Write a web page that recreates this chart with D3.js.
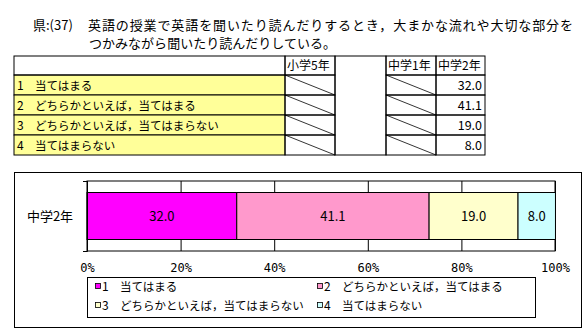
<!DOCTYPE html>
<html>
<head>
<meta charset="utf-8">
<script src="https://cdn.jsdelivr.net/npm/d3@7"></script>
<style>
  body { margin: 0; background: #fff; }
  text { font-family: "Noto Sans CJK JP", "Noto Sans", sans-serif; fill: #000; }
</style>
</head>
<body>
<div id="chart"></div>
<script>
// Data
var titleHead = "県:(37)";
var titleLines = ["英語の授業で英語を聞いたり読んだりするとき，大まかな流れや大切な部分を",
                  "つかみながら聞いたり読んだりしている。"];
var answerNums = ["1", "2", "3", "4"];
var answers = ["当てはまる", "どちらかといえば，当てはまる", "どちらかといえば，当てはまらない", "当てはまらない"];
var grades = ["小学5年", "", "中学1年", "中学2年"];
var gradeValues = [null, null, null, [32.0, 41.1, 19.0, 8.0]]; // null = no data (slashed cell)
var categories = ["中学2年"];
var seriesValues = [32.0, 41.1, 19.0, 8.0];
var seriesColors = ["#ff00ff", "#ff99cc", "#ffffcc", "#ccffff"];
var xTicks = [0, 20, 40, 60, 80, 100];

var W = 587, H = 333;
var svg = d3.select("#chart").append("svg")
    .attr("width", W).attr("height", H);

// Title
svg.append("text").attr("x", 33).attr("y", 30).style("font-size", "13px").text(titleHead);
svg.append("text").attr("x", 88).attr("y", 30).style("font-size", "13px")
    .attr("textLength", 485).attr("lengthAdjust", "spacing").text(titleLines[0]);
svg.append("text").attr("x", 89).attr("y", 48).style("font-size", "13px")
    .attr("textLength", 247).attr("lengthAdjust", "spacing").text(titleLines[1]);

// Table
var tTop = 56, headH = 19, rowH = 20;
var colX = [14, 285, 335, 386, 436, 485];   // left column + 4 grade columns
var tBottom = tTop + headH + rowH * answers.length;
var table = svg.append("g").attr("class", "table");

// yellow answer cells
answers.forEach(function(a, i) {
    var y0 = tTop + headH + i * rowH;
    table.append("rect")
        .attr("x", colX[0]).attr("y", y0)
        .attr("width", colX[1] - colX[0]).attr("height", rowH)
        .attr("fill", "#ffff99").attr("stroke", "#000").attr("stroke-width", 1);
    table.append("text").attr("x", colX[0] + 3).attr("y", y0 + 15)
        .style("font-size", "12px").text(answerNums[i]);
    table.append("text").attr("x", colX[0] + 21).attr("y", y0 + 15)
        .style("font-size", "11.5px").text(a);
});
// header left cell
table.append("rect").attr("x", colX[0]).attr("y", tTop)
    .attr("width", colX[1] - colX[0]).attr("height", headH)
    .attr("fill", "none").attr("stroke", "#000");

grades.forEach(function(g, j) {
    var x0 = colX[j + 1], x1 = colX[j + 2];
    if (g === "") {
        // blank gap column: outer border only
        table.append("rect").attr("x", x0).attr("y", tTop)
            .attr("width", x1 - x0).attr("height", tBottom - tTop)
            .attr("fill", "none").attr("stroke", "#000");
        return;
    }
    table.append("rect").attr("x", x0).attr("y", tTop)
        .attr("width", x1 - x0).attr("height", headH)
        .attr("fill", "none").attr("stroke", "#000");
    table.append("text").attr("x", x0 + 2).attr("y", tTop + 14)
        .style("font-size", "12px").text(g);
    answers.forEach(function(a, i) {
        var y0 = tTop + headH + i * rowH;
        table.append("rect").attr("x", x0).attr("y", y0)
            .attr("width", x1 - x0).attr("height", rowH)
            .attr("fill", "none").attr("stroke", "#000");
        if (gradeValues[j] === null) {
            table.append("line")
                .attr("x1", x0).attr("y1", y0).attr("x2", x1).attr("y2", y0 + rowH)
                .attr("stroke", "#000").attr("stroke-width", 0.8);
        } else {
            table.append("text").attr("x", x1 - 3).attr("y", y0 + 15)
                .attr("text-anchor", "end").style("font-size", "12.5px")
                .text(gradeValues[j][i].toFixed(1));
        }
    });
});

// Chart box
svg.append("rect").attr("x", 14.5).attr("y", 172.5).attr("width", 567).attr("height", 155)
    .attr("fill", "#fff").attr("stroke", "#000");

var plot = {left: 87, right: 555, top: 181, bottom: 251};
var x = d3.scaleLinear().domain([0, 100]).range([plot.left, plot.right]);
var y = d3.scaleBand().domain(categories).range([plot.top, plot.bottom]).padding(0.1966);

// gridlines + tick labels
var xAxis = svg.append("g")
    .attr("transform", "translate(0," + plot.bottom + ")")
    .call(d3.axisBottom(x).tickValues(xTicks).tickSize(-(plot.bottom - plot.top))
        .tickFormat(function(d) { return d + "%"; }));
xAxis.select(".domain").remove();
xAxis.selectAll("line").attr("stroke", "#000");
xAxis.selectAll("text").attr("y", 21).attr("dy", null)
    .style("font-size", "12px").style("font-family", "'DejaVu Sans Mono', monospace");

// plot border
svg.append("rect").attr("x", plot.left).attr("y", plot.top)
    .attr("width", plot.right - plot.left).attr("height", plot.bottom - plot.top)
    .attr("fill", "none").attr("stroke", "#000");

// stacked bar
var stacked = [];
var acc = 0;
seriesValues.forEach(function(v, i) {
    stacked.push({v: v, x0: acc, x1: acc + v, color: seriesColors[i]});
    acc += v;
});
var bars = svg.append("g");
bars.selectAll("rect").data(stacked).enter().append("rect")
    .attr("x", function(d) { return x(d.x0); })
    .attr("y", y(categories[0]))
    .attr("width", function(d) { return x(d.x1) - x(d.x0); })
    .attr("height", y.bandwidth())
    .attr("fill", function(d) { return d.color; })
    .attr("stroke", "#000");
bars.selectAll("text").data(stacked).enter().append("text")
    .attr("x", function(d) { return (x(d.x0) + x(d.x1)) / 2; })
    .attr("y", y(categories[0]) + y.bandwidth() / 2 + 5)
    .attr("text-anchor", "middle").style("font-size", "13px")
    .text(function(d) { return d.v.toFixed(1); });

// category axis
var yEdge = d3.scaleLinear().domain([0, 1]).range([plot.bottom, plot.top]);
var yAxis = svg.append("g").attr("transform", "translate(" + plot.left + ",0)")
    .call(d3.axisLeft(yEdge).tickValues([0, 1]).tickSize(4).tickFormat(""));
yAxis.selectAll("line, path").attr("stroke", "#000");
svg.append("text").attr("x", 50).attr("y", y(categories[0]) + y.bandwidth() / 2 + 5)
    .attr("text-anchor", "middle").style("font-size", "13px").text(categories[0]);

// Legend
var legend = svg.append("g");
legend.append("rect").attr("x", 87.5).attr("y", 277.5).attr("width", 448).attr("height", 40)
    .attr("fill", "#fff").attr("stroke", "#000");
var legendCols = [95, 317], legendRows = [286, 305];
answers.forEach(function(a, i) {
    var lx = legendCols[i % 2], ly = legendRows[Math.floor(i / 2)];
    legend.append("rect").attr("x", lx + 0.5).attr("y", ly - 2.5).attr("width", 5).attr("height", 5)
        .attr("fill", seriesColors[i]).attr("stroke", "#000").attr("stroke-width", 0.8);
    legend.append("text").attr("x", lx + 7).attr("y", ly + 5)
        .style("font-size", "12px").text(answerNums[i]);
    legend.append("text").attr("x", lx + 25).attr("y", ly + 5)
        .style("font-size", "11.5px").text(a);
});
</script>
</body>
</html>
